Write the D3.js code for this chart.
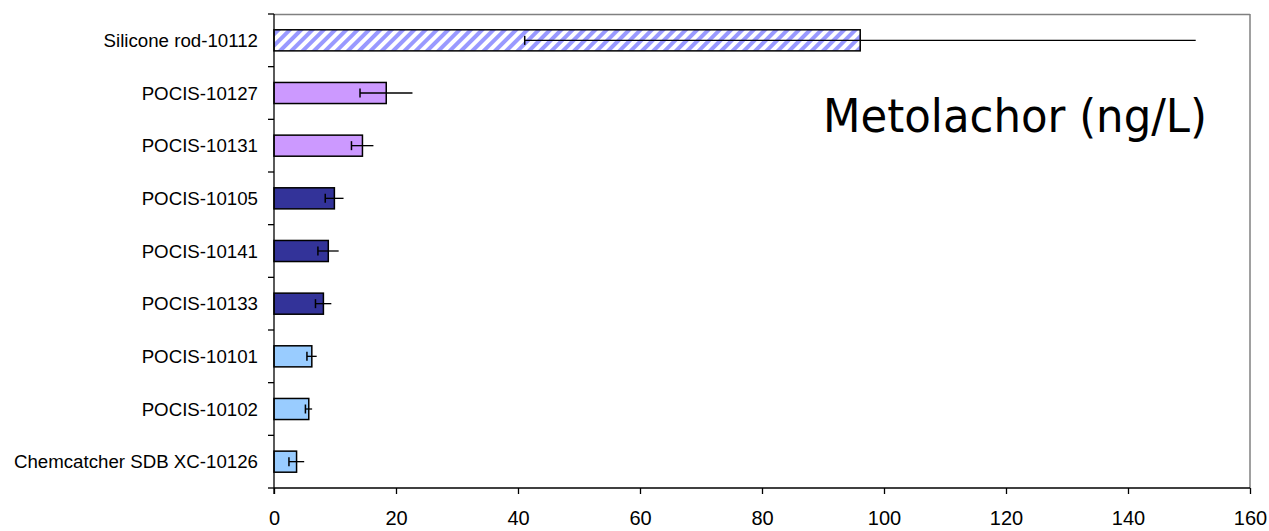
<!DOCTYPE html>
<html><head><meta charset="utf-8">
<script src="https://cdn.jsdelivr.net/npm/d3@7"></script>
<style>body{margin:0;background:#fff}svg{display:block}</style>
</head><body>
<svg id="c" width="1269" height="531"></svg>
<script>
const categories = ["Silicone rod-10112","POCIS-10127","POCIS-10131","POCIS-10105","POCIS-10141","POCIS-10133","POCIS-10101","POCIS-10102","Chemcatcher SDB XC-10126"];
const values = [96.1, 18.4, 14.5, 9.9, 8.9, 8.1, 6.2, 5.7, 3.7];
const errors = [55.0, 4.3, 1.8, 1.5, 1.7, 1.3, 0.8, 0.55, 1.25];
const groups = ["hatch","violet","violet","navy","navy","navy","sky","sky","sky"];
const xTicks = [0,20,40,60,80,100,120,140,160];
const title = "Metolachor (ng/L)";

const fills = {hatch:"url(#hatch)", violet:"#cc99ff", navy:"#333399", sky:"#99ccff"};
const svg = d3.select("#c");
const L=274, R=1250, T=14, B=488;
const x = d3.scaleLinear().domain([0,160]).range([L,R]);
const y = d3.scaleBand().domain(categories).range([T,B]).paddingInner(0.6).paddingOuter(0.3);
const yb = d3.scaleBand().domain(categories).range([T,B]);

const defs = svg.append("defs");
const p = defs.append("pattern").attr("id","hatch").attr("patternUnits","userSpaceOnUse")
  .attr("width",8).attr("height",8).attr("patternTransform","rotate(45)");
p.append("rect").attr("width",8).attr("height",8).attr("fill","#fff");
p.append("rect").attr("width",4).attr("height",8).attr("fill","#9999ff");

// border top/right
svg.append("line").attr("x1",L).attr("x2",R).attr("y1",T+0.5).attr("y2",T+0.5).attr("stroke","#808080").attr("stroke-width",1.5);
svg.append("line").attr("x1",R).attr("x2",R).attr("y1",T).attr("y2",B).attr("stroke","#808080").attr("stroke-width",1.5);

// bars
svg.selectAll("rect.bar").data(categories).enter().append("rect").attr("class","bar")
  .attr("x",x(0)).attr("y",d=>y(d)).attr("height",y.bandwidth())
  .attr("width",(d,i)=>x(values[i])-x(0))
  .attr("fill",(d,i)=>fills[groups[i]]).attr("stroke","#000").attr("stroke-width",1.5);

// error bars (cap on lower end)
categories.forEach((c,i)=>{
  const cy = y(c)+y.bandwidth()/2;
  svg.append("line").attr("x1",x(values[i]-errors[i])).attr("x2",x(values[i]+errors[i]))
    .attr("y1",cy).attr("y2",cy).attr("stroke","#000").attr("stroke-width",1.3);
  svg.append("line").attr("x1",x(values[i]-errors[i])).attr("x2",x(values[i]-errors[i]))
    .attr("y1",cy-4.5).attr("y2",cy+4.5).attr("stroke","#000").attr("stroke-width",1.5);
});

// y axis
svg.append("line").attr("x1",L).attr("x2",L).attr("y1",T).attr("y2",B+6).attr("stroke","#000").attr("stroke-width",1.3);
const yTickPos = categories.map(c=>yb(c)).concat([B]);
svg.selectAll("line.yt").data(yTickPos).enter().append("line")
  .attr("x1",L-6).attr("x2",L).attr("y1",d=>d).attr("y2",d=>d).attr("stroke","#000").attr("stroke-width",1.3);
svg.selectAll("text.yl").data(categories).enter().append("text")
  .attr("x",258).attr("y",d=>yb(d)+yb.bandwidth()/2).attr("dy","0.35em")
  .attr("text-anchor","end").attr("font-family","Liberation Sans, Arial, sans-serif").attr("font-size",18.7)
  .attr("fill","#000").text(d=>d);

// x axis
const xa = svg.append("g").attr("transform",`translate(0,${B})`)
  .call(d3.axisBottom(x).tickValues(xTicks).tickSize(6).tickPadding(17).tickFormat(d3.format("d")));
xa.select(".domain").attr("stroke","#000").attr("stroke-width",1.3).attr("d",`M${L},0H${R}`);
xa.selectAll(".tick line").attr("stroke","#000").attr("stroke-width",1.3);
xa.selectAll(".tick text").attr("font-family","Liberation Sans, Arial, sans-serif").attr("font-size",20).attr("fill","#000");

// title
svg.append("text").attr("x",823).attr("y",132).attr("text-anchor","start")
  .attr("font-family","DejaVu Sans, sans-serif").attr("font-size",46)
  .attr("textLength",384).attr("lengthAdjust","spacingAndGlyphs")
  .attr("fill","#000").text(title);
</script>
</body></html>
